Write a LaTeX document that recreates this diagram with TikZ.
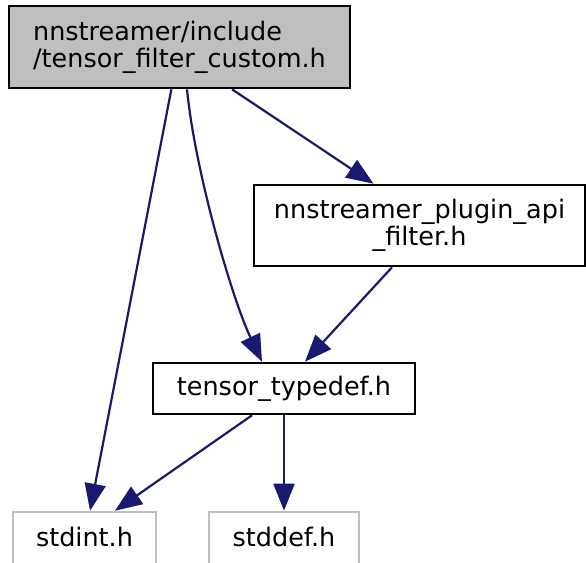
\documentclass[tikz,border=0pt]{standalone}
\usepackage{fontspec}
\setmainfont{DejaVu Sans}
\usetikzlibrary{arrows.meta, calc}
\definecolor{edgeblue}{RGB}{25,25,112}
\definecolor{hdrgray}{RGB}{191,191,191}
\begin{document}
\begin{tikzpicture}[x=1pt, y=-1pt,
  every node/.style={font=\fontsize{25.5}{27}\selectfont, inner sep=0pt},
  cur/.style={rectangle, draw=black, fill=hdrgray, line width=2.6pt, align=left},
  inc/.style={rectangle, draw=black, fill=white, line width=2.6pt, align=center},
  sys/.style={rectangle, draw=hdrgray, fill=white, line width=2.6pt, align=center, text height=19pt, text depth=6pt},
  arr/.style={-{Triangle[length=27pt, width=21pt]}, line width=2.2pt, draw=edgeblue, fill=none}
]
\useasboundingbox (0,0) rectangle (586,562);
\node[cur, minimum width=341pt, minimum height=82pt] (cur) at (179.5,47) {nnstreamer/include\\/tensor\_filter\_custom.h};
\node[inc, minimum width=331pt, minimum height=81pt, font=\fontsize{25.5}{23}\selectfont] (api) at (419.5,225.5) {nnstreamer\_plugin\_api\\\_filter.h};
\node[inc, minimum width=262pt, minimum height=51pt] (tdef) at (284,388.5) {tensor\_typedef.h};
\node[sys, minimum width=143pt, minimum height=55pt] (sint) at (84.5,539.5) {stdint.h};
\node[sys, minimum width=150pt, minimum height=55pt] (sdef) at (284,539.5) {stddef.h};
\draw[arr] (cur) -- (sint);
\draw[arr] ($(cur.south)+(7.5,0)$) .. controls +(8,82) and +(-30,-63) .. ($(tdef.north)+(-22,0)$);
\draw[arr] ($(cur.south)+(52.5,0)$) -- ($(api.north)+(-46,0)$);
\draw[arr] ($(api.south)+(-27.5,0)$) -- ($(tdef.north)+(21,0)$);
\draw[arr] ($(tdef.south)+(-32,0)$) -- ($(sint.north)+(30.5,0)$);
\draw[arr] (tdef) -- (sdef);
\end{tikzpicture}
\end{document}
